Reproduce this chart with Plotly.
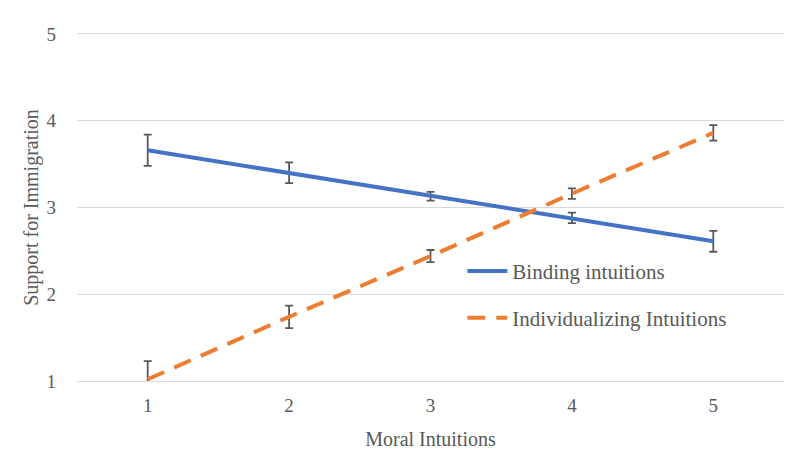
import plotly.graph_objects as go

x_vals = [1, 2, 3, 4, 5]
binding = [3.66, 3.40, 3.13, 2.88, 2.61]
binding_err = [0.18, 0.12, 0.05, 0.06, 0.12]
individ = [1.02, 1.74, 2.44, 3.16, 3.86]
individ_err = [0.21, 0.13, 0.07, 0.06, 0.09]
y_ticks = [1, 2, 3, 4, 5]

FONT = "Liberation Serif"
GRAY = "#595959"
GRID = "#d9d9d9"

fig = go.Figure()
fig.add_trace(go.Scatter(
    x=x_vals, y=binding, mode="lines", name="Binding intuitions",
    line=dict(color="#4472C4", width=4),
    error_y=dict(type="data", array=binding_err, color=GRAY, thickness=1.8, width=4),
    legend="legend",
))
fig.add_trace(go.Scatter(
    x=x_vals, y=individ, mode="lines", name="Individualizing Intuitions",
    line=dict(color="#ED7D31", width=4, dash="18px,11px"),
    error_y=dict(type="data", array=individ_err, color=GRAY, thickness=1.8, width=4),
    legend="legend2",
))

leg_common = dict(font=dict(family=FONT, size=21, color=GRAY), bgcolor="rgba(0,0,0,0)",
                  xanchor="left", yanchor="middle", itemwidth=40)
fig.update_layout(
    width=800, height=457,
    showlegend=True,
    paper_bgcolor="white", plot_bgcolor="white",
    margin=dict(l=69, r=24, t=26, b=84, autoexpand=False),
    font=dict(family=FONT, size=19, color=GRAY),
    legend=dict(x=0.545, y=0.316, **leg_common),
    legend2=dict(x=0.545, y=0.181, **leg_common),
    xaxis=dict(range=[0.5, 5.5], tickvals=x_vals, showgrid=False, zeroline=False,
               showline=True, mirror=True, linecolor=GRID, linewidth=1,
               ticks="", ticklabelstandoff=7, automargin=False,
               tickfont=dict(family=FONT, size=19, color=GRAY),
               title=dict(text="Moral Intuitions", font=dict(family=FONT, size=20, color=GRAY), standoff=17)),
    yaxis=dict(range=[1, 5], tickvals=y_ticks, showgrid=True, gridcolor=GRID, gridwidth=1,
               zeroline=False, showline=False, ticks="", ticklabelstandoff=20, automargin=False,
               tickfont=dict(family=FONT, size=19, color=GRAY),
               title=dict(text="Support for Immigration", font=dict(family=FONT, size=20, color=GRAY), standoff=2)),
)

fig.write_html("out.html")
